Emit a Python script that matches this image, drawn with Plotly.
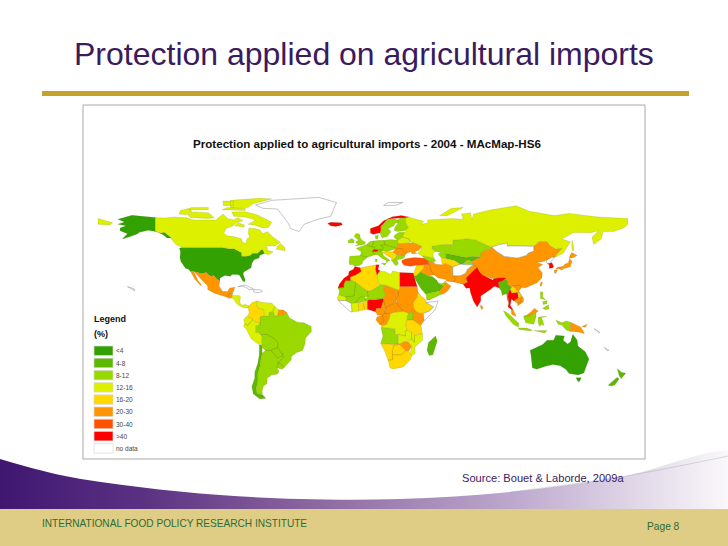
import plotly.graph_objects as go

# rough country outlines as (lon, lat)
usa = [(-124.7,48.4),(-123,49),(-95.2,49),(-94.6,48.7),(-89.6,48),(-88,48.2),(-84.5,46.5),(-82.5,45.3),(-82.4,43),(-79,42.9),(-76.5,43.6),(-75,45),(-71.5,45),(-69.2,47.4),(-67.8,47),(-67,44.8),(-70,43.7),(-70.7,41.7),(-74,40.6),(-75.5,38),(-76,35),(-78,33.9),(-81,32),(-81.4,30.5),(-80,26.8),(-80.4,25.2),(-81.8,26),(-82.8,28),(-84,30),(-86,30.4),(-89,30.3),(-90,29.1),(-94,29.6),(-97.2,27.8),(-97.2,25.9),(-99.5,27.5),(-101.5,29.8),(-103,29),(-104.7,30),(-106.5,31.8),(-108.2,31.4),(-111,31.3),(-114.8,32.5),(-117.1,32.5),(-118.5,34),(-120.6,34.6),(-122,36.8),(-123.8,39.5),(-124.3,42),(-124,46.2)]
alaska = [(-141,69.6),(-141,60.3),(-137.5,58.9),(-135,59.5),(-130,55.5),(-133,55.5),(-136,58),(-140,59.8),(-146,60.8),(-151.5,59.5),(-150,61),(-153,58.5),(-158,56.5),(-163.5,54.8),(-160,58.5),(-165,60.5),(-165,62.5),(-161,64),(-166.5,65),(-162,66.5),(-166.5,68.4),(-157,71.2),(-150,70.5)]
canada = [(-141,69.6),(-135,69.3),(-128,70),(-120,69.4),(-115,68),(-108,68),(-100,68),(-95,72),(-92,69),(-88,68),(-85,69.5),(-81.5,67.5),(-86,66),(-88,64),(-93,62),(-94.5,59),(-92.5,57),(-88,56.5),(-82.5,55),(-82,52.8),(-79.5,51.5),(-78.8,55),(-77,56),(-78,59),(-77.5,62.3),(-73,62),(-70,61),(-68,58.5),(-65,60),(-61,56),(-56,52.5),(-60,50),(-66,50),(-65,49),(-65,47),(-61,46),(-64,44),(-67,44.8),(-67.8,47),(-69.2,47.4),(-71.5,45),(-75,45),(-76.5,43.6),(-79,42.9),(-82.4,43),(-82.5,45.3),(-84.5,46.5),(-88,48.2),(-89.6,48),(-94.6,48.7),(-95.2,49),(-123,49),(-127,51),(-130,54.5),(-130,55.5),(-135,59.5),(-137.5,58.9),(-141,60.3)]
baffin = [(-80,73.7),(-72,71.5),(-67,69),(-62,66.5),(-64,63),(-68,62.5),(-74,64.5),(-78,65),(-73,68),(-80,70),(-88,70.5),(-89,73.5)]
victoria_is = [(-117,69.5),(-105,69),(-101,69.5),(-105,73),(-115,73.5),(-119,71.5)]
banks_is = [(-125,72),(-120,71.5),(-116,73.5),(-118,76),(-124,74.5)]
ellesmere = [(-90,76.5),(-78,76.5),(-75,79),(-62,82.5),(-70,83),(-90,81.5)]
melville_is = [(-118,75),(-105,75),(-105,76.5),(-117,76.5)]
devon_is = [(-96,75),(-80,74.5),(-80,76),(-92,76.5)]
axel_is = [(-95,78),(-88,78),(-88,81),(-95,81)]
newfoundland = [(-59,47.7),(-53,46.7),(-53,49),(-56,51.5),(-58,50)]
southampton_is = [(-87,64),(-81,63),(-80.5,64.5),(-85,66)]
greenland = [(-73,78.2),(-68,76),(-58,75.5),(-54,70),(-51,66),(-49,62),(-43.5,60),(-40,65),(-32,68),(-22,70.5),(-20,75),(-18,80),(-30,83.5),(-50,82.5),(-62,81.5)]
mexico = [(-114.8,32.5),(-111,31.3),(-108.2,31.4),(-106.5,31.8),(-104.7,30),(-103,29),(-101.5,29.8),(-99.5,27.5),(-97.2,25.9),(-97.8,22.5),(-95.5,18.8),(-92,18.6),(-90.5,21),(-87,21.5),(-88,18.5),(-89.1,17.8),(-91,17.2),(-92.2,14.6),(-96,15.8),(-101,17.5),(-105.5,20),(-105.5,22.5),(-109,26),(-112.8,30.5)]
baja = [(-117.1,32.5),(-114.8,32),(-112,26),(-109.5,23),(-110.5,23),(-114.5,27.5),(-115.8,30)]
guatemala = [(-92.2,14.6),(-91,17.2),(-89.1,17.8),(-88.2,18),(-88.9,15.9),(-89.2,14.3),(-90.5,13.8)]
central_america = [(-89.2,14.3),(-88.9,15.9),(-84,15.8),(-83.2,15),(-83.7,11),(-82.5,9.3),(-79.5,9.6),(-77.4,8.7),(-78,7.3),(-80.5,7.3),(-83,8.3),(-85.7,10),(-87.5,13)]
cuba = [(-85,21.9),(-80,23.1),(-74.2,20.2),(-77.7,19.9),(-78.5,21),(-82,22.4)]
hispaniola = [(-74.4,18.5),(-74,20),(-69,19.7),(-68.4,18.5),(-71.5,17.8)]
colombia = [(-77.4,8.7),(-75.5,10.8),(-72,12.2),(-72.4,9.8),(-71.3,7),(-67.5,6.2),(-67.3,2),(-70,1.2),(-69.9,-4.3),(-70,-2.8),(-73,-2.4),(-75.2,-0.1),(-78.7,1.4),(-77.3,4),(-78,7.3)]
venezuela = [(-72,12.2),(-68,11),(-62,10.7),(-60,8.5),(-61,5.2),(-64,4),(-64,1.5),(-67.3,2),(-67.5,6.2),(-71.3,7),(-72.4,9.8)]
guyana = [(-60,8.5),(-57.2,6),(-58,2),(-59.8,1.5),(-61,5.2)]
suriname = [(-57.2,6),(-54,5.8),(-51.7,4.2),(-54,2.2),(-58,2)]
ecuador = [(-78.7,1.4),(-75.2,-0.1),(-75.5,-1.5),(-78.3,-4.8),(-80.3,-3.4),(-81,-1),(-80,0.8)]
peru = [(-75.2,-0.1),(-73,-2.4),(-70,-2.8),(-69.9,-4.3),(-73,-5),(-73,-9.5),(-70.5,-9.6),(-70,-11),(-68.8,-12.5),(-69,-16.5),(-70.4,-18.3),(-72,-17),(-76,-14),(-79,-8),(-81.3,-5),(-80.3,-3.4),(-78.3,-4.8),(-75.5,-1.5)]
brazil = [(-51.7,4.2),(-50,0.5),(-44.5,-2.5),(-40,-3),(-35.2,-5.5),(-35,-9),(-39,-13.5),(-39.5,-18),(-41,-22),(-45,-23.5),(-48.5,-26),(-48.8,-28.7),(-53.4,-33.7),(-57.6,-30.2),(-54,-27),(-54.6,-25.5),(-54.3,-24),(-55.5,-24),(-58,-20),(-58,-16.3),(-60.3,-13.8),(-65.3,-11),(-69.5,-11),(-73,-9.5),(-73,-5),(-69.9,-4.3),(-70,1.2),(-67.3,2),(-64,1.5),(-64,4),(-61,5.2),(-59.8,1.5),(-58,2),(-54,2.2)]
bolivia = [(-69.5,-11),(-65.3,-11),(-60.3,-13.8),(-58,-16.3),(-58,-20),(-62.6,-22),(-66.2,-22),(-68.5,-20),(-69,-16.5),(-68.8,-12.5)]
paraguay = [(-58,-20),(-55.5,-24),(-54.3,-24),(-54.6,-25.5),(-58,-27.2),(-62.6,-22)]
uruguay = [(-57.6,-30.2),(-53.4,-33.7),(-54.9,-35),(-58.4,-34)]
argentina = [(-66.2,-22),(-62.6,-22),(-58,-27.2),(-54.6,-25.5),(-54,-27),(-57.6,-30.2),(-58.4,-34),(-57,-36.5),(-58,-38.3),(-62,-39),(-65,-41),(-65.3,-45),(-67.6,-46.5),(-68.5,-50),(-68.4,-52.4),(-72,-52),(-72.5,-48),(-71.5,-44),(-71.5,-38),(-70,-33),(-69.5,-29),(-68.5,-24)]
chile = [(-70.4,-18.3),(-69,-18),(-68.5,-20),(-68.5,-24),(-69.5,-29),(-70,-33),(-71.5,-38),(-71.5,-44),(-72.5,-48),(-72,-52),(-68.4,-52.4),(-66,-55),(-70,-55.5),(-74.5,-52),(-75.5,-47),(-73.5,-41),(-73.5,-37),(-71.5,-31),(-70.5,-25)]
iberia = [(-9,43),(-1.8,43.4),(3.2,42.4),(0,39.5),(-0.5,38),(-2,36.8),(-5.5,36),(-7,37),(-9,37),(-9.5,38.8)]
france = [(-1.8,43.4),(3.2,42.4),(6,43.1),(7.5,43.8),(7,46),(8,49),(4,50),(2.5,51),(-1.5,49.5),(-4.7,48.4),(-1.2,46)]
italy = [(7.5,43.8),(10,44),(12.5,41.8),(15.8,40),(16,38),(17,39.5),(18.4,40),(16,41.8),(13.5,43.8),(13.7,45.6),(12,47),(7,46)]
sicily = [(12.5,38),(15.6,38.2),(15,36.7)]
sardinia = [(8.3,41),(9.7,41),(9.5,39.1),(8.5,39)]
switzerland = [(6,46.3),(7.5,47.6),(9.6,47.5),(10.4,46.6),(8.5,46)]
benelux = [(2.5,51),(4,50),(6,49.5),(7,51),(7,53.5),(5,53.3)]
germany = [(6,49.5),(8,49),(7.5,47.6),(13,47.5),(13.8,48.8),(12,50.3),(15,51),(14.2,53.9),(11,54),(8.7,54),(8.6,53.7),(7,53.5),(7,51)]
denmark = [(8.6,54.9),(10,54.8),(10.5,57.5),(8.2,57)]
poland = [(14.2,53.9),(19,54.4),(23.5,54),(24,50.5),(22.6,49),(19,49.5),(15,51)]
austria_hungary = [(9.6,47.5),(10.4,46.6),(13.7,46.5),(16,46),(22,48),(22.6,49),(19,49.5),(15,51),(12,50.3),(13.8,48.8),(13,47.5)]
balkans = [(13.7,45.6),(16,46),(20.3,46.1),(22.7,44.2),(22.5,42),(20.5,41),(19.3,40),(19.4,41.8),(16,43.5)]
greece_bulgaria = [(19.5,40),(20.5,41),(22.5,42),(22.7,44.2),(28.5,43.7),(28,41.8),(26,41),(23,40.5),(24,38),(23,36.5),(21.5,37)]
romania = [(20.3,46.1),(22,48),(26.6,48.2),(28.2,45.5),(29.6,45),(28.5,43.7),(22.7,44.2)]
ukraine = [(22,48),(22.6,49),(24,50.5),(24,51.5),(31,52),(34,52.3),(40,49.6),(38,47),(35,46),(36.5,45),(33.5,44.5),(32.5,46),(29.6,45),(28.2,45.5),(26.6,48.2)]
belarus = [(24,51.5),(23.5,54),(27,56),(31,55),(32,53),(31,52)]
baltics = [(21,56),(21.5,57.5),(24.5,59.5),(28,59.5),(27.5,57.5),(27,56),(23.5,54)]
uk = [(-5.5,50),(1.3,51.2),(1.7,52.7),(0,53.5),(-1.5,55),(-2,56),(-2,57.6),(-3.2,58.6),(-5,58.5),(-6,56.5),(-3,54),(-4.5,53.2),(-5,52),(-3,51.4)]
ireland = [(-10,52),(-6,52.2),(-6,54),(-7.5,55.2),(-10,54)]
iceland = [(-24,65.5),(-22,64),(-18.5,63.4),(-14,64.5),(-14.7,66),(-18,66.3),(-22,66.3)]
norway = [(5,59),(7,58),(10.5,59),(11.5,59),(12.2,61),(12,63.5),(14,65.5),(16.5,68.5),(20,69),(25,69),(29,69.5),(31,70),(26,71),(20,70.2),(14,67.5),(10.5,64),(5,62)]
sweden = [(11.5,59),(13,55.5),(14.5,56),(16.5,56.5),(19,59.8),(17.2,62),(21,64),(22,65.8),(24,66),(23.5,68),(20.5,69),(16.5,68.5),(14,65.5),(12,63.5),(12.2,61)]
finland = [(24,66),(22,63.5),(21,61),(23,60),(28,60.5),(31,62.5),(29,66),(29,69.5),(25,69),(23.5,68)]
russia = [(28,59.5),(30,60),(28.5,60.5),(31,62.5),(29,66),(29,69.5),(31,70),(41,67),(40,65),(44,66),(44,68),(54,68.5),(60,69),(68,68.5),(67,72),(73,73),(74,68),(75,72),(81,73.5),(87,75),(104,77.7),(113,74),(130,71),(140,72.5),(160,70),(170,69.7),(180,69),(180,65),(177,62.5),(170,60),(163,60),(162,55),(156.7,51),(155.5,56),(160,60.5),(155,59.2),(143,59.3),(135,54.8),(141,53),(136,45),(131,42.5),(130.5,43),(135,48.3),(131,47.7),(127,50),(125,53),(120,53),(116,49.8),(107,50),(98,50),(98,52),(92,50.8),(87.5,49.2),(83,51),(77,54),(71,55),(61,54),(61,51),(55,51),(47,50),(47,48),(49,46.2),(47.5,44.5),(48,41.8),(44,42.5),(40,43.5),(37,45),(39,47),(40,49.6),(34,52.3),(32,53),(31,55),(27,56),(27.5,57.5)]
chukotka = [(-180,69),(-170,66),(-172,64.5),(-180,65)]
sakhalin = [(142,54),(143,50),(143,46.5),(142,47),(141.8,51)]
novaya_zemlya = [(52,71),(57,70.7),(68,76.5),(60,76)]
svalbard = [(14,78),(22,78),(27,80),(17,80)]
kazakhstan = [(47,50),(55,51),(61,51),(61,54),(71,55),(77,54),(83,51),(87.5,49.2),(85.5,47),(83,47),(80,45),(80.3,42.5),(74,43),(70,42),(66,43),(61,44),(56,45),(56,41.3),(53,42),(51,44.5),(53,45.5),(49,46.2),(47,48)]
uzbekistan = [(56,45),(61,44),(66,43),(70,42),(71,40.5),(67.5,37.3),(66,37.5),(62,40),(56,41.3)]
turkmenistan = [(53,42),(56,41.3),(62,40),(66,37.5),(61,35.6),(56,38),(53.8,37.3)]
kyrgyzstan = [(70,42),(74,43),(80.3,42.5),(74,39.5),(71,40.5)]
tajikistan = [(67.5,37.3),(71,40.5),(74,39.5),(75,37.3),(71,37)]
caucasus = [(40,43.5),(44,42.5),(48,41.8),(49.5,40),(48,38.5),(44.5,39.5),(41.5,41.5)]
turkey = [(26.3,40),(29,41.2),(35,42),(41.5,41.5),(44.5,39.5),(44.8,37.2),(36.5,36.7),(32,36),(28,36.7),(26.5,38.5)]
syria_jordan = [(36.5,36.7),(42,37.2),(41,34.4),(39,32.3),(36,29.5),(35,29.5),(34.5,31.5),(35.8,35)]
iraq = [(42,37.2),(44.8,37.2),(46,35.5),(46,33),(48.5,30),(47,30),(44.5,29.2),(39,32.3),(41,34.4)]
iran = [(44.8,37.2),(44.5,39.5),(48,38.5),(49.5,37.5),(54,37),(56,38),(61,35.6),(61,31.5),(63,27),(61.5,25.2),(57,25.7),(56,27),(51,28),(48.5,30),(46,33),(46,35.5)]
afghanistan = [(61,35.6),(66,37.5),(71,37),(75,37.3),(71,34),(69.5,31),(66,29.5),(61,29.5),(61,31.5)]
pakistan = [(61,29.5),(66,29.5),(69.5,31),(71,34),(75,37.3),(77.5,35.3),(74.5,32),(70,28),(71,25),(68,23.7),(61.5,25.2),(63,27)]
india = [(68,23.7),(71,25),(70,28),(74.5,32),(77.5,35.3),(79,32.5),(81,30),(88,26.5),(89,27.5),(92,28),(97,28),(95,26),(92,25),(89,26),(88,24),(89,22),(86.5,20),(80,15.5),(80,12),(77.5,8),(75,12),(73,18),(72.5,21),(70,20.8)]
bangladesh = [(88,24),(89,26),(92,25),(92.5,21),(90,22),(89,22)]
nepal = [(81,30),(88,26.5),(84,27),(80.2,28.7)]
sri_lanka = [(80,9.5),(81.8,7.5),(80.5,6),(79.8,8)]
myanmar = [(92.5,21),(92,25),(95,26),(97,28),(98.5,25),(98,24),(101,21.5),(98.7,18),(98.5,15),(99,11),(98,13),(97.5,17),(94.5,16),(94,19)]
thailand = [(98.7,18),(100,20),(101,17.5),(105,18),(105.5,14.5),(102.5,12),(100.8,13.5),(100,9),(102,6),(100.5,6.5),(98.5,8),(99,11),(98.5,15)]
laos = [(101,21.5),(102,22.5),(105,19),(107.5,16),(107,14.5),(105.5,14.5),(105,18),(101,17.5),(100,20)]
cambodia = [(102.5,12),(105.5,14.5),(107.5,14.5),(107,11),(105,10.5)]
vietnam = [(102,22.5),(106,23),(108,21.5),(105.8,19),(109,14),(109,11.5),(105,8.7),(105,10.5),(107,11),(107.5,14.5),(107,14.5),(107.5,16),(105,19)]
malay_peninsula = [(100.5,6.5),(102,6),(103.5,3),(104,1.5),(101,2.8)]
sumatra = [(95.3,5.6),(98,4),(104,-1.5),(106,-3.5),(105.5,-6),(102,-4),(97,2)]
java = [(105.5,-6.5),(111,-6.5),(114.5,-7.8),(114.5,-8.7),(106,-7.5)]
kalimantan = [(109,1.5),(111,2),(113,3.5),(115,3),(117.5,4),(117.5,1),(116,-4),(110.5,-3)]
sabah_sarawak = [(109.6,1.8),(111,2),(113,3.5),(116.5,7),(119,5),(117.5,4),(115,3),(113,1.5)]
sulawesi = [(119,1),(125,1.5),(121,0.5),(122,-1),(123,-5),(121.5,-4),(120,-5.5),(119,-3)]
west_papua = [(131,-1),(135,-3),(138,-1.7),(141,-2.6),(141,-9),(138,-8),(135,-4.5),(132.5,-4)]
sunda_islands = [(116,-8.4),(125,-8.2),(123.5,-10),(117,-9)]
png = [(141,-2.6),(145,-4.5),(148,-6),(150.5,-10.5),(147,-9.5),(143,-9),(141,-9)]
new_britain = [(148.5,-5.5),(152.5,-4),(151,-6)]
solomon_is = [(157,-7),(161,-9.5),(160,-10)]
new_caledonia = [(164,-20),(167,-22),(166,-22.3)]
luzon = [(120.5,18.5),(122.2,18.3),(122,15),(124,13),(120.5,13.8)]
mindanao = [(122,7),(126,9.5),(126.3,6.5),(124,6)]
visayas = [(122,11.5),(125,12.5),(125,10.3),(122.5,9.5)]
taiwan = [(121,25.2),(122,25),(121,22),(120,23)]
china = [(74,39.5),(80.3,42.5),(80,45),(83,47),(85.5,47),(87.5,49.2),(91,46),(96,42.8),(105,41.7),(111,43.5),(112,45),(116,46.5),(116,49.8),(120,53),(125,53),(127,50),(131,47.7),(135,48.3),(130.5,43),(130.5,42.5),(128,42),(124.5,40),(121,39),(118,39),(122,37.2),(119,35),(121.8,31.5),(121.5,28),(118,24.5),(113,22),(110,21),(108,21.5),(106,23),(102,22.5),(101,21.5),(98,24),(98.5,25),(97,28),(92,28),(89,27.5),(88,27.5),(81,30),(79,32.5),(77.5,35.3),(75,37.3)]
mongolia = [(87.5,49.2),(92,50.8),(98,52),(98,50),(107,50),(116,49.8),(116,46.5),(112,45),(111,43.5),(105,41.7),(96,42.8),(91,46)]
north_korea = [(124.5,40),(128,42),(130.5,42.5),(129.5,41),(127.5,39.5),(128.3,38.5),(125,38)]
south_korea = [(125,38),(128.3,38.5),(129.5,36),(129,35),(126.5,34.5),(126.5,37)]
honshu = [(130.9,34),(132,35.3),(136,36),(137,37.5),(139.5,38.5),(140.2,41.3),(142,39.5),(140.8,35.7),(137,34.6),(135,33.5),(133,34.3)]
kyushu = [(130,33.5),(132,33.5),(131,31),(130,31.5)]
hokkaido = [(140,42),(141.7,45.5),(145.5,43.5),(143,42),(141,41.5)]
saudi_arabia = [(34.7,29.5),(36,29.5),(39,32.3),(44.5,29.2),(47,29),(48.5,28),(50,26.5),(51.5,24.2),(55,22.5),(52,19),(49,18.5),(44,17.3),(42.8,16.5),(39,21),(35,28)]
yemen = [(42.8,16.5),(44,17.3),(49,18.5),(52,19),(53,16.6),(45,12.8),(43.3,12.8)]
oman = [(52,19),(55,22.5),(56.3,24.8),(59.8,22.5),(57.5,19),(55,17),(53,16.6)]
uae = [(51.5,24.2),(54,24.2),(56.3,25.8),(56.3,24.8),(55,22.5)]
morocco = [(-5.5,35.9),(-2,35),(-1.2,32.5),(-5,30),(-8.7,28.7),(-8.7,26),(-12,26),(-13,23.4),(-13,21.3),(-17,21),(-16,23.8),(-13,27.7),(-9.8,30),(-9.5,32.5),(-6.5,34)]
algeria = [(-2,35),(9,37),(8.5,34),(9.5,30),(10,25),(12,23.5),(6,19.5),(3,19),(-5,25),(-8.7,27.3),(-8.7,28.7),(-5,30),(-1.2,32.5)]
tunisia = [(9,37),(11,37),(10.2,34),(11.5,33),(9.5,30),(8.5,34)]
libya = [(11.5,33),(15.2,32.3),(19,30.3),(20,32.7),(25,31.7),(25,20),(24,19.5),(15,23),(12,23.5),(10,25),(9.5,30)]
egypt = [(25,31.7),(31,31.5),(34.2,31.3),(35,28),(36.8,22),(25,22)]
sudan = [(25,22),(36.8,22),(37.5,18),(36.5,14.3),(34,11),(34.5,7),(35.5,5),(31,3.7),(27.5,5),(24,8.7),(23,11),(22.5,14),(24,15.5),(24,19.5),(25,20)]
ethiopia = [(37.5,18),(39,16),(43,12.5),(42.8,11),(48,8),(45,5),(42,4),(38.5,3.6),(35.5,5),(34.5,7),(34,11),(36.5,14.3)]
somalia = [(42.8,11),(51,12),(49,6),(41.5,-1.6),(41,3.5),(42,4),(45,5),(48,8)]
kenya = [(35.5,5),(38.5,3.6),(41,3.5),(41.5,-1.6),(39.3,-4.7),(34,-1),(34,4)]
uganda = [(31,3.7),(35.5,5),(34,4),(34,-1),(30,-1),(30,1.5)]
tanzania = [(30,-1),(34,-1),(39.3,-4.7),(40.4,-10.5),(35,-11.5),(33,-9.5),(30,-8),(29,-4)]
drc = [(12.2,-6),(13,-5),(16,-4),(17.8,0),(18.5,3.5),(22,4.5),(27.5,5),(31,3.7),(30,1.5),(30,-1),(29,-4),(30,-8),(28.5,-9),(29,-12),(24.5,-11),(22,-11),(21.5,-7),(13,-6)]
congo = [(11.2,-4),(13,-5),(16,-4),(17.8,0),(18.5,3.5),(14.5,3.6),(13.2,2.2),(14,-2)]
gabon = [(9.5,1),(13.2,2.2),(14,-2),(11.2,-4),(8.8,-1)]
cameroon = [(8.5,4.6),(9,7),(12,7),(14,12.7),(15,10),(15,7),(14.5,3.6),(13.2,2.2),(9.8,2.2)]
car = [(14.5,3.6),(15,7),(18,9),(22.5,11),(23,11),(24,8.7),(27.5,5),(22,4.5),(18.5,3.5)]
chad = [(14,12.7),(15,10),(15,7),(18,9),(22.5,11),(22.5,14),(24,15.5),(24,19.5),(15,23),(14,20),(15.5,16.5),(13.5,13.7)]
niger = [(3,19),(6,19.5),(12,23.5),(15,23),(14,20),(15.5,16.5),(13.5,13.7),(8,13),(4,13),(3,11.7),(1,13),(3.5,15)]
nigeria = [(3,6.3),(8.5,4.6),(9,7),(12,7),(14,12.7),(13.5,13.7),(8,13),(4,13),(3,11.7)]
mali = [(-5,25),(3,19),(3.5,15),(1,15),(-2,14.8),(-5.5,10.5),(-8,10.3),(-11.5,12.3),(-12,15),(-6,15.5)]
mauritania = [(-8.7,27.3),(-5,25),(-6,15.5),(-12,15),(-16.5,16),(-16,19),(-17,21),(-13,21.3),(-13,23.4),(-12,26),(-8.7,26)]
senegal = [(-16.5,16),(-12,15),(-11.5,12.3),(-17,12.5),(-17.5,14.7)]
guinea_liberia = [(-17,12.5),(-11.5,12.3),(-8,10.3),(-7.5,4.4),(-9,5),(-13.5,9.5)]
burkina = [(-5.5,10.5),(-2,14.8),(1,15),(2.5,12),(-3,11)]
ivory_coast = [(-8,10.3),(-5.5,10.5),(-3,11),(-2.8,9.5),(-3,5),(-7.5,4.4)]
ghana = [(-3,11),(0,11),(1.2,6),(-3,5)]
togo_benin = [(0,11),(2.5,12),(3,11.7),(3,6.3),(1.2,6)]
angola = [(12.2,-6),(13,-6),(21.5,-7),(22,-11),(24,-11),(24,-17.5),(20.5,-18),(12,-17.2),(13.5,-12)]
zambia = [(24,-11),(29,-12),(28.5,-9),(30,-8),(33,-9.5),(33,-14),(30,-15.7),(28,-16),(25,-17.8),(24,-17.5)]
malawi = [(33,-9.5),(35,-11.5),(35,-16.5),(33,-14)]
mozambique = [(35,-11.5),(40.4,-10.5),(40.5,-15),(35,-20),(35.5,-24),(32.8,-26),(32,-24),(33,-19.5),(30.5,-16),(33,-14),(35,-16.5)]
zimbabwe = [(25,-17.8),(28,-16),(30.5,-16),(33,-19.5),(31,-22.4),(29,-22.2)]
namibia = [(12,-17.2),(20.5,-18),(24,-17.5),(25,-17.8),(21,-18.5),(20,-22),(20,-28.4),(17,-28.7),(14.5,-22)]
botswana = [(21,-18.5),(25,-17.8),(29,-22.2),(26,-25),(20,-25),(20,-22)]
south_africa = [(17,-28.7),(20,-28.4),(20,-25),(26,-25),(29,-22.2),(31,-22.4),(32,-24),(32.8,-26),(32.5,-28),(28,-33),(25.5,-34),(20,-34.8),(18.3,-34)]
madagascar = [(49.3,-12),(50.4,-15.5),(47.5,-25),(45,-25.5),(43.5,-22),(44.5,-16.5)]
australia = [(113.5,-22),(114.2,-26),(115,-34),(118,-35),(124,-33),(129,-31.7),(134,-32.5),(137.7,-35),(140,-38),(146,-39),(150,-37.5),(153.5,-28),(151,-23),(146,-19),(145.5,-15),(142.5,-10.8),(141,-16),(139,-17.5),(136,-15),(136.8,-12),(131,-11.5),(129.5,-15),(125,-15),(122,-18),(114,-21.7)]
tasmania = [(144.7,-40.8),(148.3,-40.8),(147,-43.5),(146,-43.5)]
nz_north = [(172.7,-34.5),(175.5,-37),(178.5,-37.7),(175.3,-41.6),(174,-39.3)]
nz_south = [(172.7,-40.6),(174,-41.7),(171,-45.8),(168.5,-46.6),(166.5,-46)]
hawaii = [(-160,22),(-155.5,20.5),(-155,19),(-156,19.5)]

legend_labels = ["<4", "4-8", "8-12", "12-16", "16-20", "20-30", "30-40", ">40", "no data"]
legend_colors = ["#33a102", "#5cb800", "#99d900", "#dcf000", "#ffd800", "#ff9500", "#ff5200", "#ff0000", "#ffffff"]

band_lt4 = [usa, alaska, australia, tasmania]
band_4_8 = [chile, nz_north, nz_south, madagascar, saudi_arabia, uzbekistan, kyrgyzstan, myanmar]
band_8_12 = [brazil, bolivia, paraguay, uruguay, argentina, iberia, france, italy, sicily, sardinia, benelux, germany,
             denmark, poland, austria_hungary, greece_bulgaria, baltics, uk, ireland, sweden, finland, kazakhstan,
             tajikistan, caucasus, yemen, uae, mali, mauritania, niger, burkina, angola, uganda, sumatra, java,
             kalimantan, sulawesi, west_papua, sunda_islands, luzon, mindanao, visayas]
band_12_16 = [canada, baffin, victoria_is, banks_is, ellesmere, melville_is, devon_is, axel_is, newfoundland,
              southampton_is, central_america, venezuela, guyana, ecuador, peru, russia, chukotka, sakhalin,
              novaya_zemlya, belarus, libya, drc, zambia, malawi, mozambique, senegal, ivory_coast]
band_16_20 = [colombia, algeria, ethiopia, tanzania, namibia, botswana, south_africa, turkmenistan, syria_jordan,
              laos, ghana, togo_benin, balkans]
band_20_30 = [mexico, baja, guatemala, suriname, romania, ukraine, iraq, iran, pakistan, nepal, sri_lanka, china,
              honshu, kyushu, hokkaido, taiwan, cambodia, vietnam, malay_peninsula, sabah_sarawak, png, new_britain,
              oman, sudan, kenya, congo, gabon, cameroon, car, chad, zimbabwe]
band_30_40 = [turkey]
band_gt40 = [iceland, norway, switzerland, morocco, tunisia, egypt, nigeria, india, bangladesh, thailand, south_korea]
band_none = [greenland, cuba, hispaniola, svalbard, afghanistan, mongolia, north_korea, somalia, guinea_liberia,
             solomon_is, new_caledonia, hawaii]
bands = [band_lt4, band_4_8, band_8_12, band_12_16, band_16_20, band_20_30, band_30_40, band_gt40, band_none]

title_color = "#3b1a5e"
font = "Liberation Sans"


def flatten(polys, idx):
    out = []
    for p in polys:
        out += [q[idx] for q in p] + [p[0][idx], None]
    return out


fig = go.Figure()

# swoosh above the footer, in page pixels
swoosh_x = [-10, 60, 139, 220, 300, 400, 510, 620, 738, 738, -10]
swoosh_y = [456, 475, 487, 495, 499, 499, 492, 477, 454, 512, 512]
fig.add_trace(go.Scatter(
    x=swoosh_x, y=swoosh_y, mode="lines", fill="toself",
    line=dict(width=0, shape="spline", color="rgba(0,0,0,0)"), hoverinfo="skip",
    fillgradient=dict(type="horizontal", colorscale=[
        [0, "#3d1570"], [0.2, "#5a3182"], [0.42, "#8a659f"], [0.7, "#bfabcf"], [0.87, "#e4dcea"], [1, "#ffffff"]]),
))
# thin grey edge where the swoosh fades out
fig.add_trace(go.Scatter(
    x=swoosh_x[6:9], y=swoosh_y[6:9], mode="lines",
    line=dict(width=0.6, shape="spline", color="rgba(130,130,130,0.45)"), hoverinfo="skip",
))

# the map itself
for polys, color, label_text in zip(bands, legend_colors, legend_labels):
    edge = "#8c8c8c" if label_text == "no data" else "rgba(95,95,50,0.3)"
    fig.add_trace(go.Scatter(
        x=flatten(polys, 0), y=flatten(polys, 1), xaxis="x2", yaxis="y2", mode="lines", fill="toself",
        fillcolor=color, line=dict(color=edge, width=0.5), name=label_text, hoverinfo="name",
    ))

shapes = [
    dict(type="rect", x0=42, x1=689, y0=91, y1=96, fillcolor="#c4a32b", line_width=0),
    dict(type="rect", x0=83, x1=645, y0=105, y1=459, fillcolor="#ffffff", line=dict(color="#a8a8a8", width=1)),
    dict(type="rect", x0=0, x1=728, y0=509, y1=546, fillcolor="#e0cd85", line_width=0, layer="above"),
]
for i, color in enumerate(legend_colors):
    y0 = 346 + i * 12.2
    shapes.append(dict(type="rect", x0=94, x1=113, y0=y0, y1=y0 + 9.5, fillcolor=color,
                       line=dict(color="#d9d9d9", width=0.7)))
for s in shapes:
    s.update(xref="x", yref="y")
    s.setdefault("layer", "below")


def label(x, y, text, size, color, anchor="left", bold=False):
    if bold:
        text = "<b>" + text + "</b>"
    return dict(x=x, y=y, xref="x", yref="y", text=text, showarrow=False, xanchor=anchor, yanchor="middle",
                font=dict(family=font, size=size, color=color))


annotations = [
    label(364, 54, "Protection applied on agricultural imports", 32, title_color, "center"),
    label(367, 143, "Protection applied to agricultural imports - 2004 - MAcMap-HS6", 11.6, "#111111", "center", True),
    label(92, 319, "Legend", 9, "#111111", bold=True),
    label(92, 334, "(%)", 9, "#111111", bold=True),
    label(460, 478, "Source: Bouet &amp; Laborde, 2009a", 11.1, title_color),
    label(40, 523, "INTERNATIONAL FOOD POLICY RESEARCH INSTITUTE", 10.1, "#2f6b35"),
    label(645, 526, "Page 8", 10.2, "#2f6b35"),
]
for i, text in enumerate(legend_labels):
    annotations.append(label(114, 350.8 + i * 12.2, text.replace("<", "&lt;"), 6.5, "#444444"))

fig.update_layout(
    width=728, height=546, margin=dict(l=0, r=0, t=0, b=0), autosize=False,
    paper_bgcolor="#ffffff", plot_bgcolor="rgba(0,0,0,0)", showlegend=False,
    # page axes in pixels, drawn first
    xaxis=dict(domain=[0, 1], range=[0, 728], visible=False, fixedrange=True),
    yaxis=dict(domain=[0, 1], range=[546, 0], visible=False, fixedrange=True),
    # lon 0 sits near x=363, lat 0 near y=318.5, about 1.47 px per degree
    xaxis2=dict(domain=[98 / 728, 628 / 728], range=[-180, 180], visible=False, fixedrange=True, anchor="y2"),
    yaxis2=dict(domain=[1 - 449 / 546, 1 - 188 / 546], range=[-90, 90], visible=False, fixedrange=True, anchor="x2"),
    shapes=shapes, annotations=annotations,
)

fig.write_html("out.html", config=dict(displayModeBar=False),
               post_script="document.body.style.margin='0';document.body.style.overflow='hidden';")
